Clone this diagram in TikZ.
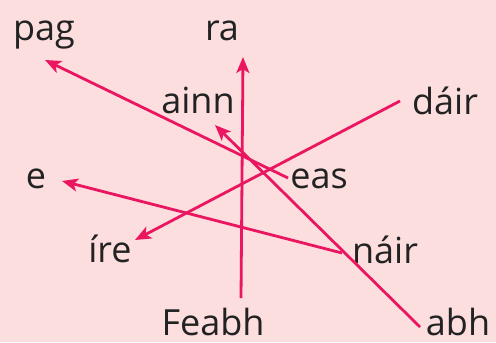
\documentclass[tikz,border=0pt]{standalone}
\usepackage{fontspec}
\setmainfont{Open Sans}
\usepackage{tikz}
\usetikzlibrary{arrows.meta}
\definecolor{bgPink}{HTML}{FCDEDE}
\definecolor{linkRed}{HTML}{EA1660}
\definecolor{wordInk}{HTML}{222222}
\tikzset{
  word/.style={
    anchor=base, inner sep=0pt, text=wordInk,
    font=\fontsize{18}{21}\selectfont
  },
  link/.style={
    -{Stealth[length=8pt, width=6.5pt, inset=2pt]},
    linkRed, line width=1.4pt
  }
}
\begin{document}
\begin{tikzpicture}[x=0.5pt, y=-0.5pt]
      % background
      \fill[bgPink] (0,0) rectangle (496,342);
      \useasboundingbox (0,0) rectangle (496,342);
      % words, top row to bottom row
      \node[word] (pag) at (44,40) {pag};
      \node[word] (ra) at (222,40) {ra};
      \node[word] (ainn) at (198,113) {ainn};
      \node[word] (dair) at (445,114) {dáir};
      \node[word] (eas) at (319,188) {eas};
      \node[word] (e) at (36,188) {e};
      \node[word] (ire) at (110,262) {íre};
      \node[word] (nair) at (385,263) {náir};
      \node[word] (Feabh) at (213,335) {Feabh};
      \node[word] (abh) at (458,335) {abh};
      % line ends beside the words
      \coordinate (easS) at (288,178);
      \coordinate (pagT) at (45,60);
      \coordinate (FeabhS) at (241,298);
      \coordinate (raT) at (243,57);
      \coordinate (dairS) at (400,101);
      \coordinate (ireT) at (135,240);
      \coordinate (nairS) at (342,253);
      \coordinate (eT) at (62,181);
      \coordinate (abhS) at (420,327);
      \coordinate (ainnT) at (215,125);
      % connectors
      \draw[link] (easS) -- (pagT);
      \draw[link] (FeabhS) -- (raT);
      \draw[link] (dairS) -- (ireT);
      \draw[link] (nairS) -- (eT);
      \draw[link] (abhS) -- (ainnT);
\end{tikzpicture}
\end{document}
